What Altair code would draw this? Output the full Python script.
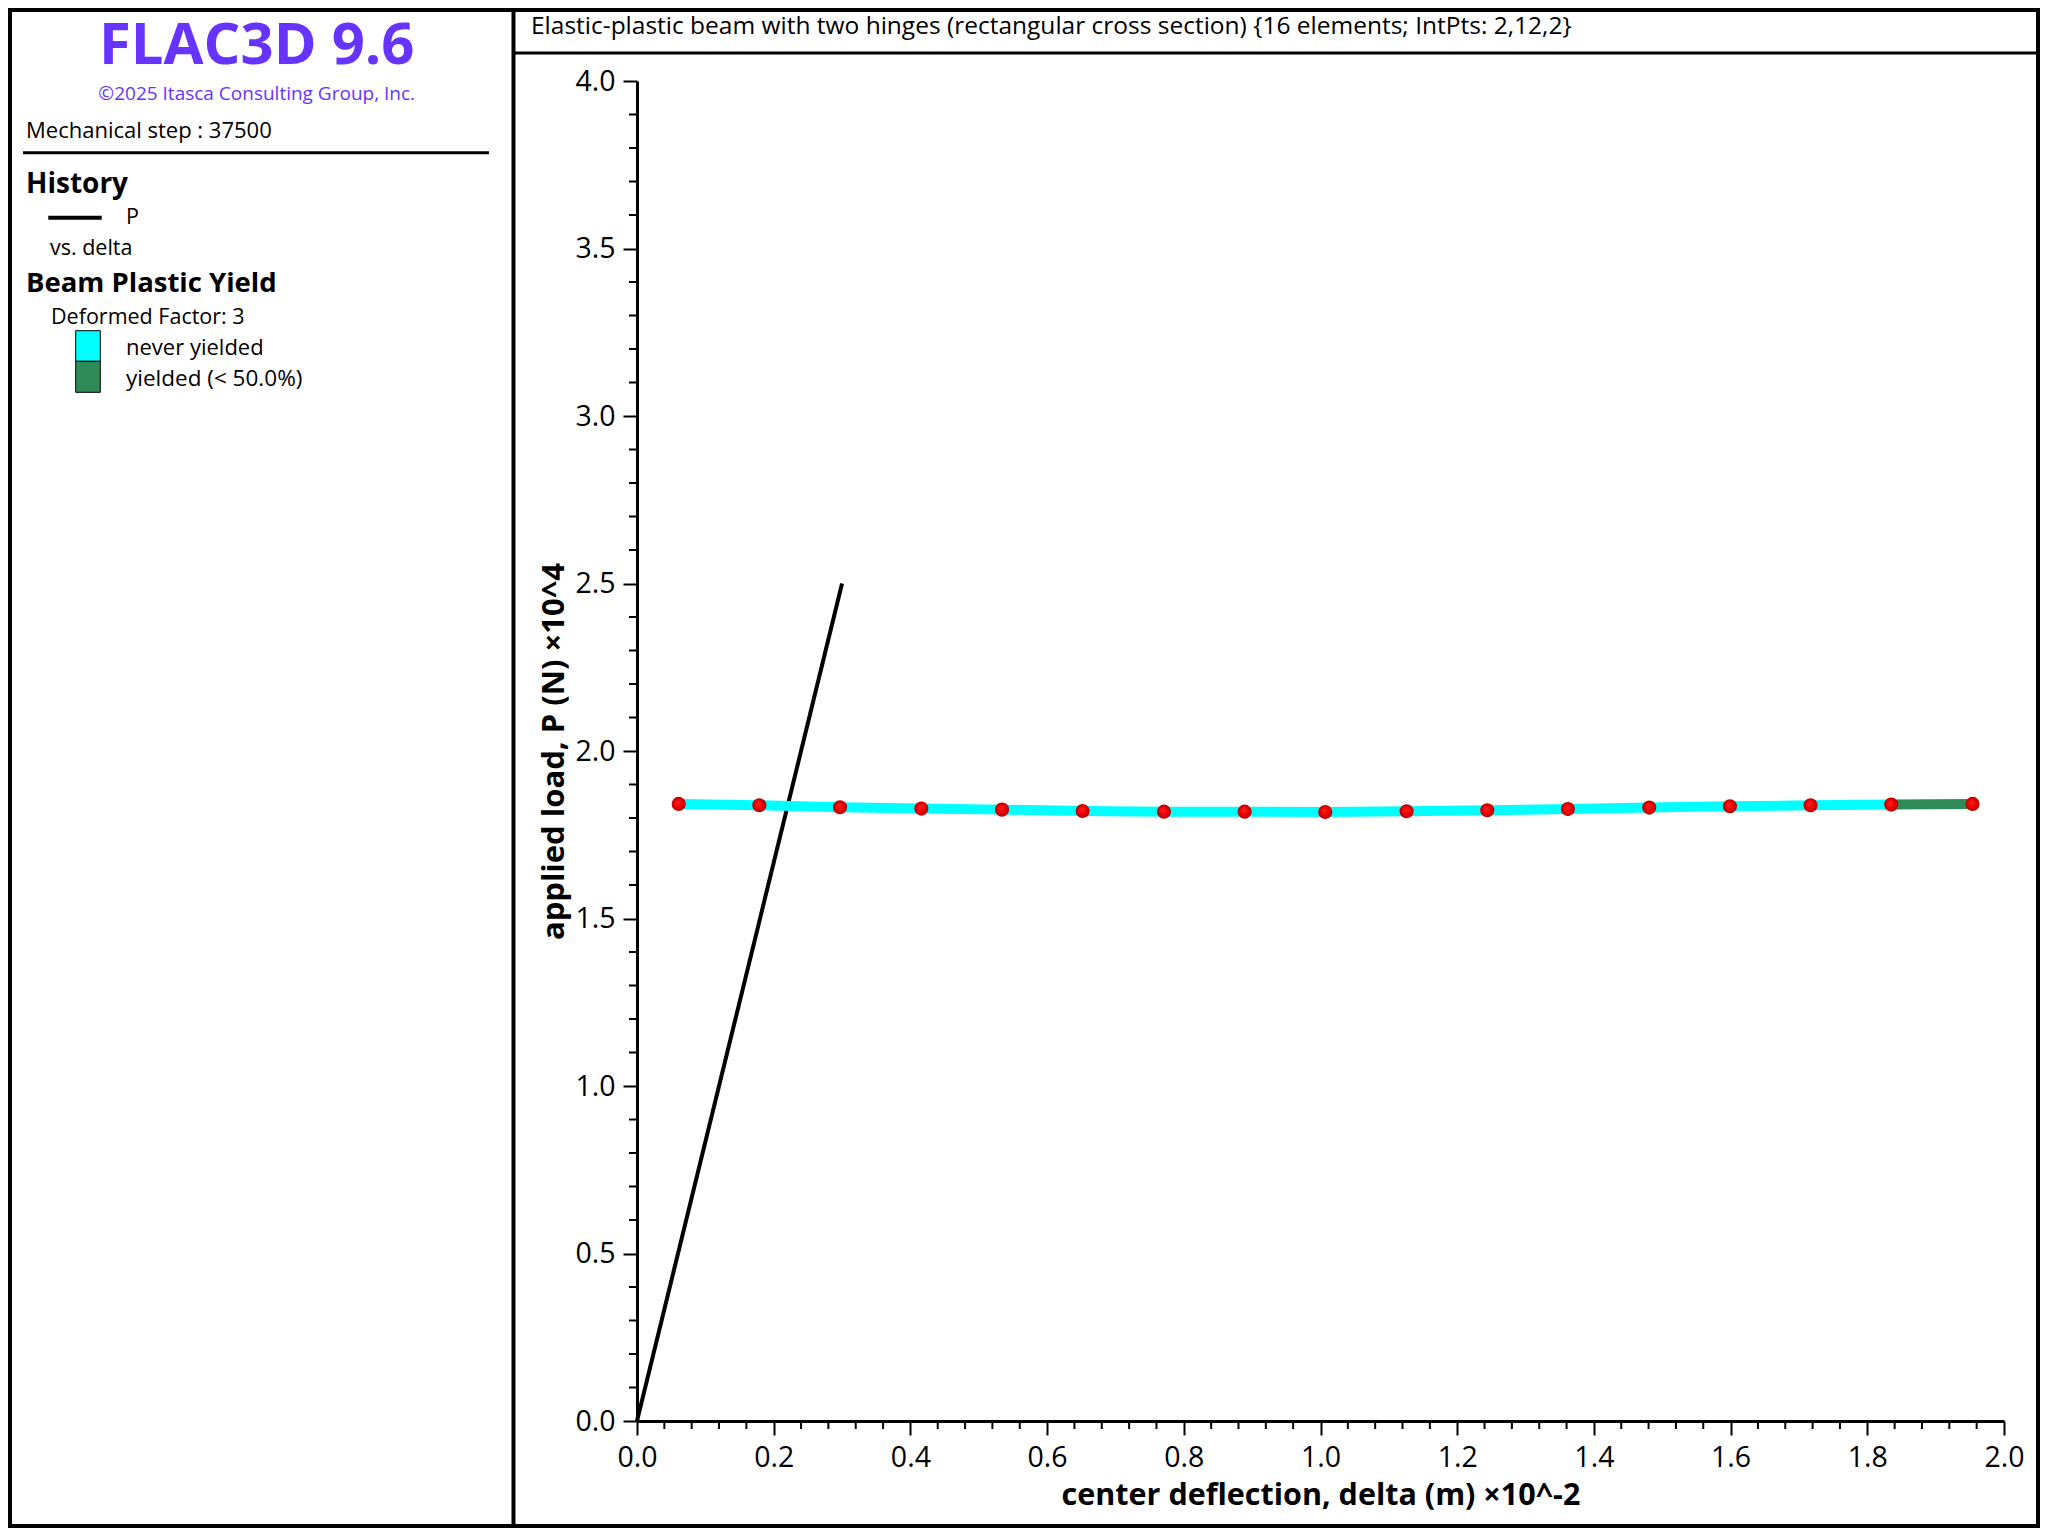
import altair as alt
import pandas as pd

# ---------------- data ----------------
# history: P (x10^4 N) vs delta (x10^-2 m)
hist_delta = [0.0, 0.30]
hist_P = [0.0, 2.50]

# deformed beam nodes (plotted in the same axes)
beam_x = [0.061, 0.179, 0.297, 0.416, 0.534, 0.652, 0.771, 0.889, 1.007,
          1.126, 1.244, 1.362, 1.481, 1.599, 1.717, 1.835, 1.954]
beam_y = [1.842, 1.838, 1.832, 1.828, 1.825, 1.821, 1.819, 1.819, 1.818,
          1.820, 1.823, 1.827, 1.831, 1.835, 1.838, 1.840, 1.842]
seg_state = ["never yielded"] * 15 + ["yielded (< 50.0%)"]
state_names = ["never yielded", "yielded (< 50.0%)"]
state_colors = ["#00ffff", "#2e8b57"]

x_ticks = [0.0, 0.2, 0.4, 0.6, 0.8, 1.0, 1.2, 1.4, 1.6, 1.8, 2.0]
y_ticks = [0.0, 0.5, 1.0, 1.5, 2.0, 2.5, 3.0, 3.5, 4.0]
x_minor = [round(i * 0.04, 2) for i in range(51) if i % 5 != 0]
y_minor = [round(i * 0.1, 1) for i in range(41) if i % 5 != 0]

title_text = "Elastic-plastic beam with two hinges (rectangular cross section) {16 elements; IntPts: 2,12,2}"
x_title = "center deflection, delta (m) \u00d710^-2"
y_title = "applied load, P (N) \u00d710^4"

# ---------------- layout ----------------
FONT = "Open Sans"
PURPLE = "#6633ff"
W, H = 1367, 1340
PAD = {"left": 629, "top": 73, "right": 36, "bottom": 107}
OX, OY = 637, 81  # page position of plot origin


def px(rx):
    return rx - OX


def py(ry):
    return ry - OY


xs = alt.Scale(domain=[0, 2], nice=False, zero=False)
ys = alt.Scale(domain=[0, 4], nice=False, zero=False)
x_axis = alt.Axis(values=x_ticks, format=".1f", title=x_title, titleFontSize=30.5, titlePadding=9)
y_axis = alt.Axis(values=y_ticks, format=".1f", title=y_title, titleFontSize=31, titlePadding=4)


def X(f):
    return alt.X(f"{f}:Q", scale=xs, axis=x_axis)


def Y(f):
    return alt.Y(f"{f}:Q", scale=ys, axis=y_axis)


dummy = pd.DataFrame({"a": [0]})


def text(t, rx, ry, size, bold=False, color="black", align="left"):
    return alt.Chart(dummy).mark_text(
        text=t, align=align, baseline="alphabetic", font=FONT, fontSize=size,
        fontWeight="bold" if bold else "normal", color=color
    ).encode(x=alt.value(px(rx)), y=alt.value(py(ry)))


def hrule(rx1, rx2, ry, w, color="black"):
    return alt.Chart(dummy).mark_rule(color=color, strokeWidth=w, strokeCap="butt").encode(
        x=alt.value(px(rx1)), x2=alt.value(px(rx2)), y=alt.value(py(ry)))


def vrule(rx, ry1, ry2, w, color="black"):
    return alt.Chart(dummy).mark_rule(color=color, strokeWidth=w, strokeCap="butt").encode(
        x=alt.value(px(rx)), y=alt.value(py(ry1)), y2=alt.value(py(ry2)))


def box(rx1, rx2, ry1, ry2, fill, stroke="black", sw=1):
    return alt.Chart(dummy).mark_rect(fill=fill, stroke=stroke, strokeWidth=sw).encode(
        x=alt.value(px(rx1)), x2=alt.value(px(rx2)), y=alt.value(py(ry1)), y2=alt.value(py(ry2)))


# frame
frame = alt.Chart(dummy).mark_rect(fillOpacity=0, stroke="black", strokeWidth=4).encode(
    x=alt.value(px(10)), x2=alt.value(px(2038)), y=alt.value(py(10)), y2=alt.value(py(1526)))
divider = vrule(513.5, 8, 1528, 4)
title_line = hrule(513.5, 2040, 53, 3)

annotations = [
    frame, divider, title_line,
    text(title_text, 531, 34, 24.5),
    text("FLAC3D 9.6", 256.7, 64, 58, bold=True, color=PURPLE, align="center"),
    text("\u00a92025 Itasca Consulting Group, Inc.", 256.7, 100, 19, color=PURPLE, align="center"),
    text("Mechanical step : 37500", 26, 138.3, 22),
    hrule(23, 489, 152.7, 3),
    text("History", 26, 192.7, 28, bold=True),
    hrule(48.3, 101.7, 217.7, 4),
    text("P", 126, 224, 21.5),
    text("vs. delta", 50, 255, 21.5),
    text("Beam Plastic Yield", 26, 291.7, 27.5, bold=True),
    text("Deformed Factor: 3", 51, 324, 21.5),
    box(75.7, 100.3, 330.7, 361.3, state_colors[0]),
    box(75.7, 100.3, 361.3, 392.3, state_colors[1]),
    text("never yielded", 126, 355, 22),
    text("yielded (< 50.0%)", 126, 386, 22.5),
]

# ---------------- data layers ----------------
df_hist = pd.DataFrame({"delta": hist_delta, "P": hist_P})
seg_rows = []
for i, st in enumerate(seg_state):
    for j in (i, i + 1):
        seg_rows.append({"x": beam_x[j], "y": beam_y[j], "seg": i, "state": st})
df_seg = pd.DataFrame(seg_rows)
df_beam = pd.DataFrame({"x": beam_x, "y": beam_y})

hist = alt.Chart(df_hist).mark_line(color="black", strokeWidth=4).encode(x=X("delta"), y=Y("P"))

beam_line = alt.Chart(df_seg).mark_line(strokeWidth=10, strokeCap="butt").encode(
    x=X("x"), y=Y("y"), detail="seg:N",
    color=alt.Color("state:N", scale=alt.Scale(domain=state_names, range=state_colors), legend=None))

grad = alt.RadialGradient(
    gradient="radial",
    stops=[alt.GradientStop(color="#ff2020", offset=0),
           alt.GradientStop(color="#e60000", offset=0.65),
           alt.GradientStop(color="#b00000", offset=1)],
    x1=0.42, y1=0.38, r1=0, x2=0.5, y2=0.5, r2=0.5)
nodes = alt.Chart(df_beam).mark_circle(size=200, opacity=1, fill=grad).encode(x=X("x"), y=Y("y"))

xminor = alt.Chart(pd.DataFrame({"v": x_minor})).mark_rule(color="black", strokeWidth=2).encode(
    x=X("v"), y=alt.value(H), y2=alt.value(H + 8))
yminor = alt.Chart(pd.DataFrame({"v": y_minor})).mark_rule(color="black", strokeWidth=2).encode(
    y=Y("v"), x=alt.value(-8), x2=alt.value(0))

chart = alt.layer(
    *annotations, hist, xminor, yminor, beam_line, nodes
).properties(
    width=W, height=H, padding=PAD,
    autosize=alt.AutoSizeParams(type="none"),
    background="white",
).configure_view(stroke=None).configure_axis(
    grid=False,
    domainColor="black", domainWidth=3,
    tickColor="black", tickWidth=2, tickSize=14,
    labelFont=FONT, labelFontSize=28.5, labelColor="black", labelPadding=8,
    labelFlush=False, labelOverlap=False,
    titleFont=FONT, titleFontWeight="bold", titleColor="black",
)

chart.save("out.html", embed_options={"renderer": "svg", "actions": False})
